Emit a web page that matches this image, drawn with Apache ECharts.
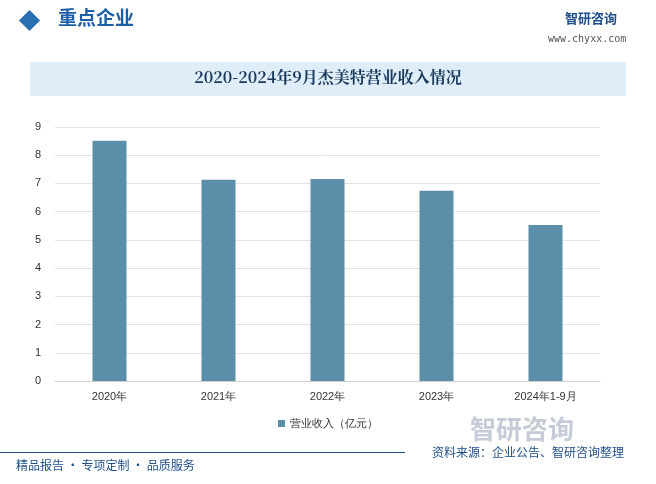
<!DOCTYPE html>
<html>
<head>
<meta charset="utf-8">
<script src="https://cdn.jsdelivr.net/npm/echarts@6/dist/echarts.min.js"></script>
<style>
body{margin:0;background:#fff;font-family:"Noto Sans CJK SC",sans-serif;}
#wrap{position:relative;width:656px;height:484px;overflow:hidden;}
#chart{position:absolute;left:0;top:0;width:656px;height:484px;}
</style>
</head>
<body>
<div id="wrap"><div id="chart"></div></div>
<script>
var years = ['2020年', '2021年', '2022年', '2023年', '2024年1-9月'];
var revenue = [8.51, 7.13, 7.16, 6.74, 5.53];
var yTicks = [0, 9, 1];

var chart = echarts.init(document.getElementById('chart'));
chart.setOption({
    animation: false,
    graphic: [
        {type: 'rect', shape: {x: 22, y: 13, width: 15, height: 15}, rotation: Math.PI / 4, origin: [29.5, 20.5], style: {fill: '#2a6fb0'}},
        {type: 'text', left: 58, top: 8, style: {text: '重点企业', fill: '#1f5fa8', font: 'bold 19px "Noto Sans CJK SC"'}},
        {type: 'text', left: 565, top: 12, style: {text: '智研咨询', fill: '#1f4f8a', font: 'bold 13px "Noto Sans CJK SC"'}},
        {type: 'text', left: 548, top: 34, style: {text: 'www.chyxx.com', fill: '#555', font: '10px "DejaVu Sans Mono"'}},
        {type: 'rect', shape: {x: 30, y: 62, width: 596, height: 34}, style: {fill: '#deedf8'}},
        {type: 'text', left: 'center', top: 69, style: {text: '2020-2024年9月杰美特营业收入情况', fill: '#1a3a5c', font: 'bold 16px "Noto Serif CJK SC","Noto Sans CJK SC"'}},
        {type: 'rect', shape: {x: 0, y: 452, width: 405, height: 1}, style: {fill: '#1f4f8a'}},
        {type: 'text', left: 16, top: 459, style: {text: '精品报告 · 专项定制 · 品质服务', fill: '#1f4f8a', font: '12px "Noto Sans CJK SC"'}},
        {type: 'text', left: 432, top: 446, style: {text: '资料来源：企业公告、智研咨询整理', fill: '#1f4f8a', font: '12px "Noto Sans CJK SC"'}},
        {type: 'text', left: 470, top: 416, style: {text: '智研咨询', fill: 'rgba(90,110,140,0.35)', font: 'bold 26px "Noto Sans CJK SC"'}}
    ],
    grid: {left: 55, right: 56, top: 127, bottom: 103},
    legend: {
        bottom: 50, left: 'center', itemWidth: 7, itemHeight: 7, icon: 'rect',
        textStyle: {color: '#333', fontSize: 11},
        data: ['营业收入（亿元）']
    },
    xAxis: {
        type: 'category', data: years,
        axisLine: {lineStyle: {color: '#d0d0d0'}},
        axisTick: {show: false},
        axisLabel: {color: '#333', fontSize: 11, margin: 10}
    },
    yAxis: {
        type: 'value', min: yTicks[0], max: yTicks[1], interval: yTicks[2],
        axisLine: {show: false}, axisTick: {show: false},
        axisLabel: {color: '#333', fontSize: 11, margin: 14},
        splitLine: {lineStyle: {color: '#e3e3e3'}}
    },
    series: [{
        name: '营业收入（亿元）', type: 'bar', data: revenue, barWidth: 34,
        itemStyle: {color: '#5b8fa9'}
    }]
});
</script>
</body>
</html>
